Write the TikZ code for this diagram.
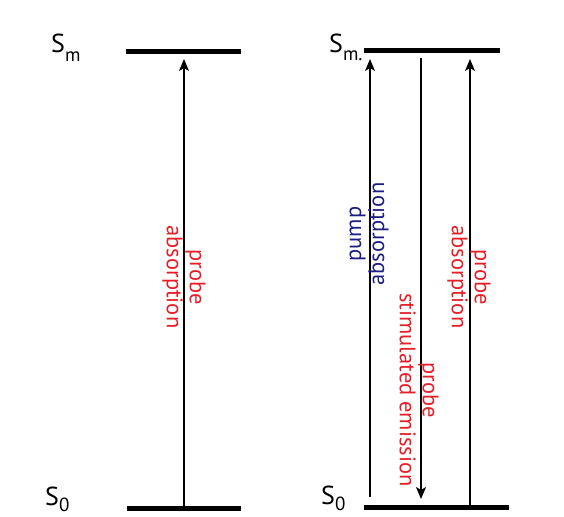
\documentclass[tikz,border=0pt]{standalone}
\usepackage{fontspec}
\setmainfont{PT Sans}
\usetikzlibrary{arrows.meta}
\definecolor{probered}{RGB}{230,30,40}
\definecolor{pumpblue}{RGB}{30,30,130}
\newcommand{\stsub}[2]{\raisebox{#1}{\fontsize{19}{19}\selectfont #2}}
\tikzset{
  level/.style={fill=black, inner sep=0pt, minimum height=5pt},
  trans/.style={line width=1.2pt, -{Stealth[length=12pt,width=10pt,inset=3pt]}},
  lbl/.style={font=\fontsize{22.5}{23}\selectfont, align=center, inner sep=0pt},
  red/.style={lbl, text=probered, rotate=-90},
  blue/.style={lbl, text=pumpblue, rotate=90},
  state/.style={font=\fontsize{26}{28}\selectfont, inner sep=0pt, anchor=base west}
}
\begin{document}
\begin{tikzpicture}[x=1pt,y=-1pt]
\useasboundingbox (0,0) rectangle (564,516);
% levels
\node[level, minimum width=115pt] (Lm) at (183.5,51.5) {};
\node[level, minimum width=114pt] (L0) at (184,508) {};
\node[level, minimum width=136pt] (Rm) at (432,51) {};
\node[level, minimum width=145pt] (R0) at (436.5,507) {};
% state labels
\node[state] (sm1) at (51,53) {S\stsub{-9pt}{m}};
\node[state] (s01) at (45,505) {S\stsub{-6pt}{0}};
\node[state] (sm2) at (329,53) {S\stsub{-8pt}{m.}};
\node[state] (s02) at (321,504) {S\stsub{-6pt}{0}};
% transitions
\coordinate (a1s) at (184,508);
\coordinate (a1e) at (184,59);
\coordinate (a2s) at (370,497);
\coordinate (a2e) at (370,59);
\coordinate (a3s) at (421,58);
\coordinate (a3e) at (421,499);
\coordinate (a4s) at (470,507);
\coordinate (a4e) at (470,59);
\draw[trans] (a1s) -- (a1e);
\draw[trans] (a2s) -- (a2e);
\draw[trans] (a3s) -- (a3e);
\draw[trans] (a4s) -- (a4e);
% labels
\node[red] (t1) at (184,277) {probe\\absorption};
\node[blue] (t2) at (369,234) {pump\\absorption};
\node[red] (t3) at (419,390) {probe\\stimulated emission};
\node[red] (t4) at (469,277) {probe\\absorption};
\end{tikzpicture}
\end{document}
